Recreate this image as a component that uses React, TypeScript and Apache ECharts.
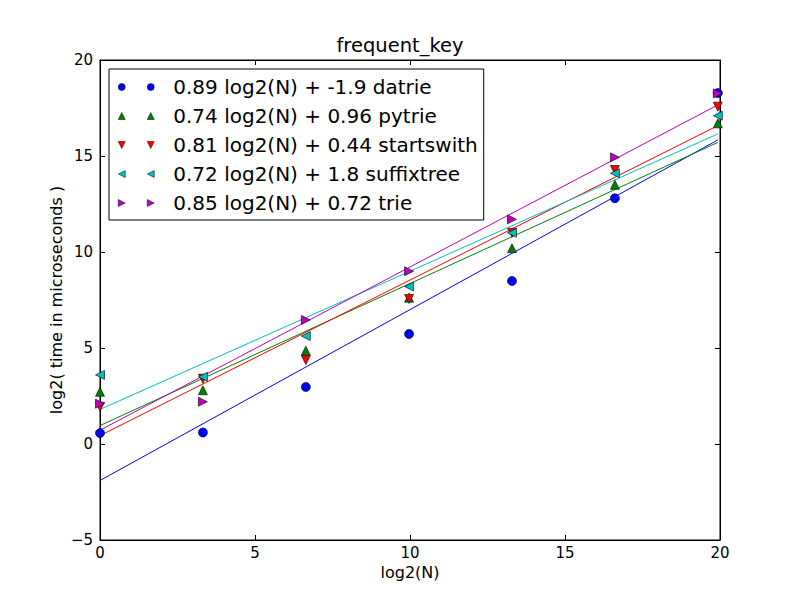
import React, { useEffect, useRef } from "react";
import * as echarts from "echarts";

const xs = [0, 3.32, 6.64, 9.97, 13.29, 16.61, 19.93];
const datrie = [0.57, 0.6, 2.97, 5.73, 8.49, 12.8, 18.28];
const pytrie = [2.72, 2.8, 4.86, 7.62, 10.2, 13.5, 16.7];
const startswith = [1.94, 3.4, 4.37, 7.55, 11.0, 14.27, 17.57];
const suffixtree = [3.6, 3.5, 5.62, 8.2, 11.0, 14.1, 17.1];
const trie = [2.1, 2.2, 6.46, 9.0, 11.7, 14.93, 18.26];

const names = ["datrie", "pytrie", "startswith", "suffixtree", "trie"];
const slopes = [0.89, 0.74, 0.81, 0.72, 0.85];
const intercepts = [-1.9, 0.96, 0.44, 1.8, 0.72];
const labels = [
  "0.89 log2(N) + -1.9 datrie",
  "0.74 log2(N) + 0.96 pytrie",
  "0.81 log2(N) + 0.44 startswith",
  "0.72 log2(N) + 1.8 suffixtree",
  "0.85 log2(N) + 0.72 trie",
];
const seriesValues = [datrie, pytrie, startswith, suffixtree, trie];

const colors = ["#0000ff", "#008000", "#ff0000", "#00bfbf", "#bf00bf"];
const symbols = ["circle", "triangle", "triangle", "triangle", "triangle"];
const rotations = [0, 0, 180, 90, -90];
const legendIcons = [
  "path://M0,3.5 A3.5,3.5 0 1,0 7,3.5 A3.5,3.5 0 1,0 0,3.5 Z M29,3.5 A3.5,3.5 0 1,0 36,3.5 A3.5,3.5 0 1,0 29,3.5 Z",
  "path://M3.5,0 L7,7 L0,7 Z M32.5,0 L36,7 L29,7 Z",
  "path://M0,0 L7,0 L3.5,7 Z M29,0 L36,0 L32.5,7 Z",
  "path://M0,3.5 L7,0 L7,7 Z M29,3.5 L36,0 L36,7 Z",
  "path://M0,0 L7,3.5 L0,7 Z M29,0 L36,3.5 L29,7 Z",
];

const FONT = "DejaVu Sans";

export default function App() {
  const ref = useRef<HTMLDivElement>(null);
  useEffect(() => {
    if (!ref.current) return;
    const chart = echarts.init(ref.current, null, { renderer: "svg" });
    const xMin = xs[0];
    const xMax = xs[xs.length - 1];
    const scatterSeries = names.map((n, i) => ({
      type: "scatter",
      name: labels[i],
      data: xs.map((x, j) => [x, seriesValues[i][j]]),
      symbol: symbols[i],
      symbolSize: 9,
      symbolRotate: rotations[i],
      itemStyle: { color: colors[i], borderColor: "#000", borderWidth: 0.6, opacity: 1 },
      z: 3,
    }));
    const lineSeries = names.map((n, i) => ({
      type: "line",
      name: "fit_" + n,
      data: [
        [xMin, slopes[i] * xMin + intercepts[i]],
        [xMax, slopes[i] * xMax + intercepts[i]],
      ],
      showSymbol: false,
      symbol: "none",
      lineStyle: { color: colors[i], width: 1 },
      itemStyle: { color: colors[i] },
      z: 2,
    }));
    const minusFmt = (v: number) => String(v).replace("-", "\u2212");
    const axisCommon = {
      type: "value",
      axisLine: { show: true, onZero: false, lineStyle: { color: "#000" } },
      axisTick: { show: true, inside: true, length: 5, lineStyle: { color: "#000" } },
      splitLine: { show: false },
    };
    chart.setOption({
      animation: false,
      backgroundColor: "#ffffff",
      textStyle: { fontFamily: FONT },
      title: {
        text: "frequent_key",
        left: "center",
        top: 30,
        textStyle: { fontFamily: FONT, fontSize: 19.5, fontWeight: "normal", color: "#000" },
      },
      grid: {
        left: 100,
        right: 80,
        top: 60,
        bottom: 60,
        show: true,
        borderColor: "#000",
        borderWidth: 1,
        backgroundColor: "#fff",
      },
      legend: {
        orient: "vertical",
        left: 109,
        top: 69,
        borderColor: "#000",
        borderWidth: 1,
        backgroundColor: "#fff",
        padding: [7, 6, 6, 9],
        itemGap: 7,
        itemWidth: 36,
        itemHeight: 7,
        symbolRotate: 0,
        itemStyle: { borderColor: "#000", borderWidth: 0.5 },
        textStyle: {
          fontFamily: FONT,
          fontSize: 20,
          color: "#000",
          lineHeight: 22,
          padding: [0, 0, 0, 14],
        },
        data: labels.map((l, i) => ({ name: l, icon: legendIcons[i] })),
      },
      xAxis: [
        {
          ...axisCommon,
          min: 0,
          max: 20,
          interval: 5,
          name: "log2(N)",
          nameLocation: "middle",
          nameGap: 24,
          nameMoveOverlap: false,
          nameTextStyle: { fontFamily: FONT, fontSize: 16, color: "#000" },
          axisLabel: { fontFamily: FONT, fontSize: 15, color: "#000", margin: 5, formatter: minusFmt },
        },
        {
          ...axisCommon,
          min: 0,
          max: 20,
          interval: 5,
          position: "top",
          axisLabel: { show: false },
        },
      ],
      yAxis: [
        {
          ...axisCommon,
          min: -5,
          max: 20,
          interval: 5,
          name: "log2( time in microseconds )",
          nameLocation: "middle",
          nameGap: 36,
          nameMoveOverlap: false,
          nameTextStyle: { fontFamily: FONT, fontSize: 16, color: "#000" },
          axisLabel: { fontFamily: FONT, fontSize: 15, color: "#000", margin: 7, formatter: minusFmt },
        },
        {
          ...axisCommon,
          min: -5,
          max: 20,
          interval: 5,
          position: "right",
          axisLabel: { show: false },
        },
      ],
      series: [...lineSeries, ...scatterSeries],
    });
    return () => chart.dispose();
  }, []);
  return <div ref={ref} style={{ width: 800, height: 600, margin: -8 }} />;
}
